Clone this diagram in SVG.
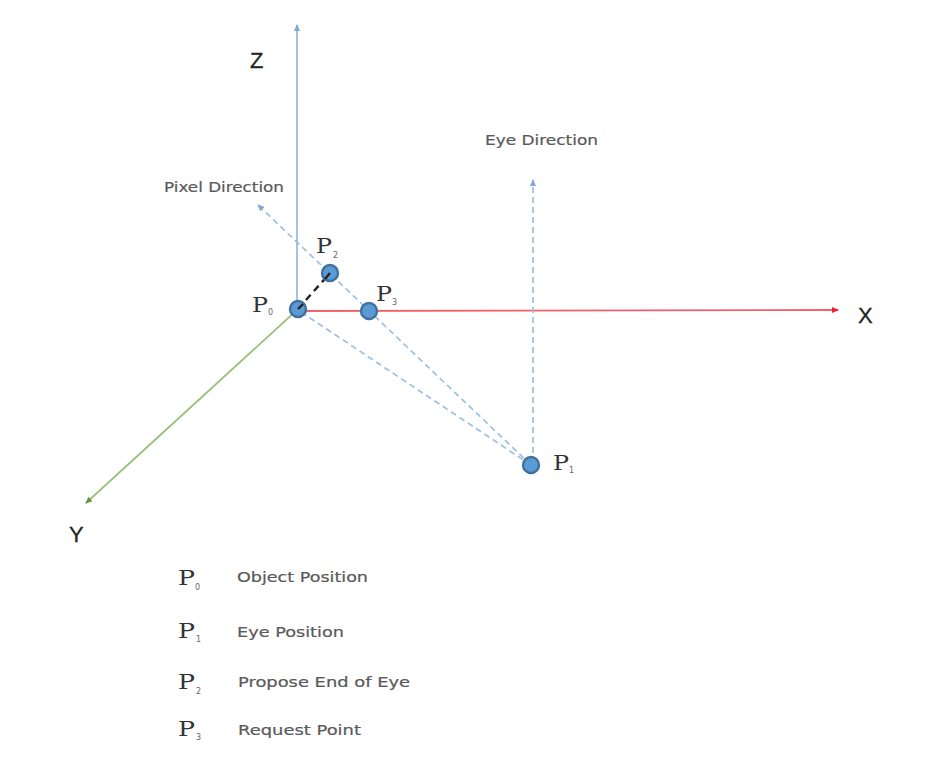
<svg xmlns="http://www.w3.org/2000/svg" width="933" height="778" viewBox="0 0 933 778">
<style>
.l{font-family:"DejaVu Sans",sans-serif;font-size:14px;fill:#5a5a5a;stroke:#5a5a5a;stroke-width:.2}
.p{font-family:"DejaVu Serif",serif;font-size:20px;fill:#333}
.s{font-family:"DejaVu Sans",sans-serif;font-size:8px;fill:#666}
.a{font-family:"Liberation Sans",sans-serif;font-size:22px;fill:#222}
.d{fill:none;stroke:#9dc0e2;stroke-width:1.7;stroke-dasharray:6 4}
.n{fill:#5b9bd5;stroke:#41719c;stroke-width:2.4}
</style>
<defs>
<marker id="mb" markerWidth="7" markerHeight="6" refX="6" refY="3" orient="auto" markerUnits="userSpaceOnUse"><path d="M0 0L7 3L0 6Z" fill="#7fa8d4"/></marker>
<marker id="mr" markerWidth="7" markerHeight="6" refX="6" refY="3" orient="auto" markerUnits="userSpaceOnUse"><path d="M0 0L7 3L0 6Z" fill="#f02030"/></marker>
<marker id="mg" markerWidth="7" markerHeight="6" refX="6" refY="3" orient="auto" markerUnits="userSpaceOnUse"><path d="M0 0L7 3L0 6Z" fill="#5f9440"/></marker>
</defs>
<rect width="933" height="778" fill="#fff"/>
<g id="connectors" fill="none">
<line x1="297" y1="309" x2="297" y2="25" stroke="#a3c3e3" stroke-width="2" marker-end="url(#mb)"/>
<line x1="298" y1="311" x2="838" y2="310" stroke="#f0606a" stroke-width="1.8" marker-end="url(#mr)"/>
<line x1="297" y1="310" x2="86" y2="503" stroke="#98c07a" stroke-width="1.7" marker-end="url(#mg)"/>
<line class="d" x1="531" y1="465" x2="258" y2="205" marker-end="url(#mb)"/>
<line class="d" x1="531" y1="465" x2="298" y2="310"/>
<line class="d" x1="533" y1="463" x2="533" y2="180" marker-end="url(#mb)"/>
<line x1="298" y1="309" x2="330" y2="273" stroke="#222" stroke-width="2.4" stroke-dasharray="7 5"/>
</g>
<g id="P0"><circle class="n" cx="298" cy="309" r="8"/><line x1="298" y1="309" x2="303" y2="304" stroke="#222" stroke-width="2.4"/><text class="p" x="252" y="312" textLength="16" lengthAdjust="spacingAndGlyphs">P</text><text class="s" x="268" y="315">0</text></g>
<g id="P1"><circle class="n" cx="531" cy="465" r="8"/><text class="p" x="553" y="470" textLength="16" lengthAdjust="spacingAndGlyphs">P</text><text class="s" x="569" y="473">1</text></g>
<g id="P2"><circle class="n" cx="330" cy="273" r="8"/><line x1="330" y1="273" x2="325" y2="279" stroke="#222" stroke-width="2.4"/><text class="p" x="316" y="253" textLength="16" lengthAdjust="spacingAndGlyphs">P</text><text class="s" x="333" y="258">2</text></g>
<g id="P3"><circle class="n" cx="369" cy="311" r="8"/><text class="p" x="376" y="301" textLength="16" lengthAdjust="spacingAndGlyphs">P</text><text class="s" x="392" y="305">3</text></g>
<g id="labels">
<text class="a" x="250" y="68" stroke="#222" stroke-width=".3">Z</text>
<text class="a" x="858" y="323" stroke="#222" stroke-width=".3">X</text>
<text class="a" x="69" y="542" stroke="#222" stroke-width=".3">Y</text>
<text class="l" x="164" y="192" textLength="120" lengthAdjust="spacingAndGlyphs">Pixel Direction</text>
<text class="l" x="485" y="145" textLength="113" lengthAdjust="spacingAndGlyphs">Eye Direction</text>
</g>
<g id="legend">
<text class="p" x="178" y="585" textLength="17" lengthAdjust="spacingAndGlyphs">P</text><text class="s" x="195" y="590">0</text><text class="l" x="237" y="582" textLength="131" lengthAdjust="spacingAndGlyphs">Object Position</text>
<text class="p" x="178" y="638" textLength="17" lengthAdjust="spacingAndGlyphs">P</text><text class="s" x="196" y="642">1</text><text class="l" x="237" y="637" textLength="107" lengthAdjust="spacingAndGlyphs">Eye Position</text>
<text class="p" x="178" y="689" textLength="17" lengthAdjust="spacingAndGlyphs">P</text><text class="s" x="196" y="694">2</text><text class="l" x="238" y="687" textLength="172" lengthAdjust="spacingAndGlyphs">Propose End of Eye</text>
<text class="p" x="178" y="736" textLength="17" lengthAdjust="spacingAndGlyphs">P</text><text class="s" x="196" y="740">3</text><text class="l" x="238" y="735" textLength="123" lengthAdjust="spacingAndGlyphs">Request Point</text>
</g>
</svg>
